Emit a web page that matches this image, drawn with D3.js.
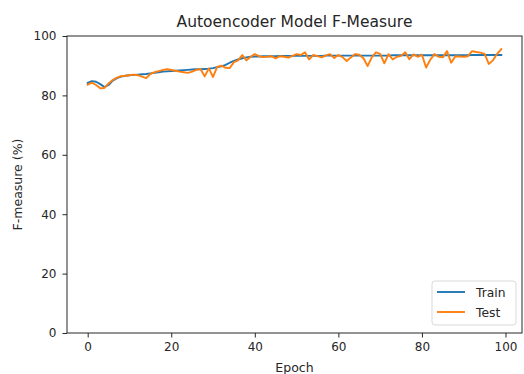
<!DOCTYPE html>
<html><head><meta charset="utf-8">
<script src="https://cdn.jsdelivr.net/npm/d3@7"></script>
<style>body{margin:0;background:#fff;} text{font-family:"DejaVu Sans",sans-serif;}</style>
</head><body>
<svg id="chart" width="524" height="374"></svg>
<script>
const epochs = d3.range(100);
const trainValues = [84.2,84.8,84.6,83.8,82.8,83.5,85.0,85.8,86.3,86.6,
86.8,86.9,87.0,87.1,87.2,87.4,87.6,87.8,88.0,88.1,
88.2,88.3,88.4,88.5,88.6,88.7,88.8,88.8,88.9,89.0,
89.2,89.5,89.8,90.3,91.0,91.6,92.1,92.5,92.8,93.0,
93.1,93.1,93.2,93.2,93.2,93.2,93.3,93.3,93.3,93.3,
93.3,93.3,93.3,93.3,93.3,93.3,93.3,93.4,93.4,93.4,
93.4,93.4,93.4,93.4,93.4,93.4,93.4,93.4,93.4,93.4,
93.4,93.4,93.4,93.5,93.5,93.5,93.5,93.5,93.5,93.5,
93.5,93.5,93.5,93.5,93.5,93.5,93.5,93.5,93.5,93.5,
93.5,93.5,93.6,93.6,93.6,93.6,93.6,93.6,93.6,93.6];
const testValues = [83.6,84.3,83.5,82.4,82.5,84.0,85.2,86.0,86.5,86.6,
86.8,87.0,86.8,86.3,85.8,87.2,87.8,88.2,88.6,88.8,
88.6,88.3,88.0,87.8,87.6,88.0,88.6,88.9,86.4,89.1,
86.2,89.6,90.0,89.3,89.2,91.2,91.8,93.6,91.8,93.0,
93.9,93.2,92.9,93.0,93.2,92.5,93.2,93.0,92.7,93.3,
93.9,93.6,94.5,92.1,93.6,93.2,92.8,93.5,93.9,92.6,
93.6,92.9,91.6,92.8,93.9,93.7,92.5,89.9,92.8,94.5,
94.0,90.8,93.9,92.1,93.0,93.3,94.5,92.2,93.8,93.0,
93.7,89.4,92.0,93.9,93.0,92.8,94.9,91.0,93.2,93.1,
93.0,93.2,94.9,94.6,94.4,94.0,90.6,91.8,94.0,95.6];
const xTicks = [0,20,40,60,80,100];
const yTicks = [0,20,40,60,80,100];
const seriesNames = ["Train","Test"];
const colors = ["#1f77b4","#ff7f0e"];

const svg = d3.select("#chart");
const L=67, R=522, T=36, B=333;
const x = d3.scaleLinear().domain([-4.95,103.95]).range([L,R]);
const y = d3.scaleLinear().domain([0,100]).range([B,T]);

const line = d3.line().x((d,i)=>x(epochs[i])).y(d=>y(d));
[trainValues,testValues].forEach((vals,k)=>{
  svg.append("path").datum(vals).attr("d",line)
    .attr("fill","none").attr("stroke",colors[k]).attr("stroke-width",1.9)
    .attr("stroke-linejoin","round").attr("stroke-linecap","square");
});

const xAxis = svg.append("g").attr("transform",`translate(0,${B})`)
  .call(d3.axisBottom(x).tickValues(xTicks).tickSize(4.5).tickPadding(5).tickFormat(d3.format("d")));
const yAxis = svg.append("g").attr("transform",`translate(${L},0)`)
  .call(d3.axisLeft(y).tickValues(yTicks).tickSize(4.5).tickPadding(6).tickFormat(d3.format("d")));
[xAxis,yAxis].forEach(g=>{
  g.select(".domain").remove();
  g.selectAll("text").attr("font-size",12).attr("fill","#262626").attr("font-family","DejaVu Sans");
  g.selectAll("line").attr("stroke","#262626");
});
svg.append("rect").attr("x",L).attr("y",T).attr("width",R-L).attr("height",B-T)
  .attr("fill","none").attr("stroke","#262626").attr("stroke-width",1);

svg.append("text").attr("x",(L+R)/2).attr("y",27).attr("text-anchor","middle")
  .attr("font-size",15.5).attr("fill","#262626").text("Autoencoder Model F-Measure");
svg.append("text").attr("x",(L+R)/2).attr("y",372).attr("text-anchor","middle")
  .attr("font-size",12.5).attr("fill","#262626").text("Epoch");
svg.append("text").attr("transform",`translate(22,${(T+B)/2}) rotate(-90)`).attr("text-anchor","middle")
  .attr("font-size",12.5).attr("fill","#262626").text("F-measure (%)");

const lg = svg.append("g");
lg.append("rect").attr("x",432).attr("y",281).attr("width",84).attr("height",44).attr("rx",3)
  .attr("fill","#fff").attr("fill-opacity",0.8).attr("stroke","#d9d9d9");
seriesNames.forEach((n,k)=>{
  const yy = 292 + k*20;
  lg.append("line").attr("x1",437).attr("x2",465).attr("y1",yy).attr("y2",yy)
    .attr("stroke",colors[k]).attr("stroke-width",1.9);
  lg.append("text").attr("x",476).attr("y",yy+4.5).attr("font-size",12.3).attr("fill","#262626").text(n);
});
</script>
</body></html>
